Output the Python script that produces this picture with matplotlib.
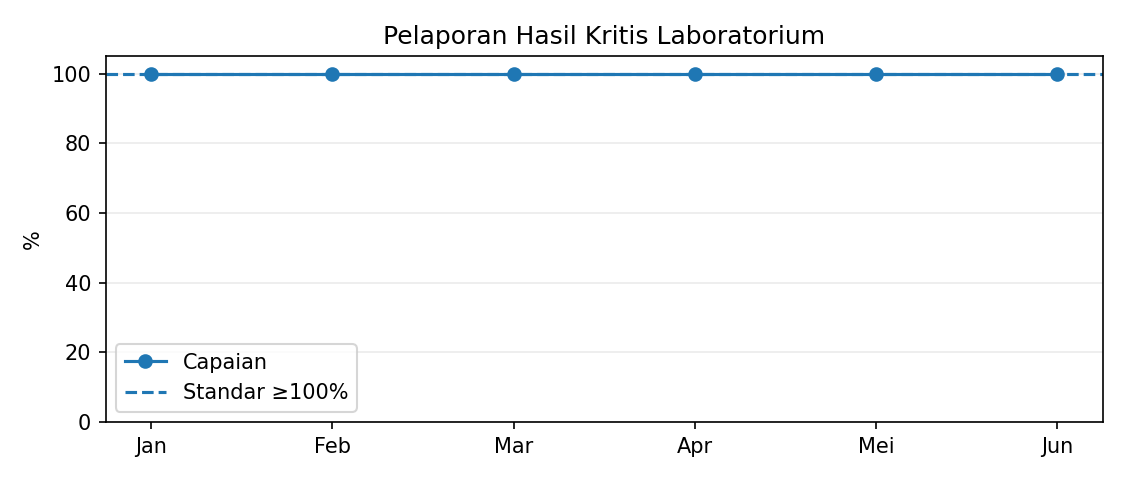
import numpy as np
import matplotlib
matplotlib.use("Agg")
import matplotlib.pyplot as plt

# monthly data
bulan = ['Jan', 'Feb', 'Mar', 'Apr', 'Mei', 'Jun']
capaian = [100, 100, 100, 100, 100, 100]
standar = 100

fig, ax = plt.subplots(figsize=(7.5, 3.2), dpi=150)

ax.plot(bulan, capaian, marker='o', color='#1f77b4', label='Capaian')
ax.axhline(standar, linestyle='--', color='#1f77b4', label='Standar \u2265100%')

ax.set_ylim(0, 105)
ax.set_ylabel('%')
ax.set_title('Pelaporan Hasil Kritis Laboratorium')
ax.grid(axis='y', alpha=0.25)
ax.legend(loc='lower left')

fig.subplots_adjust(left=0.094, right=0.98, top=0.883, bottom=0.121)
fig.savefig('out.png')
